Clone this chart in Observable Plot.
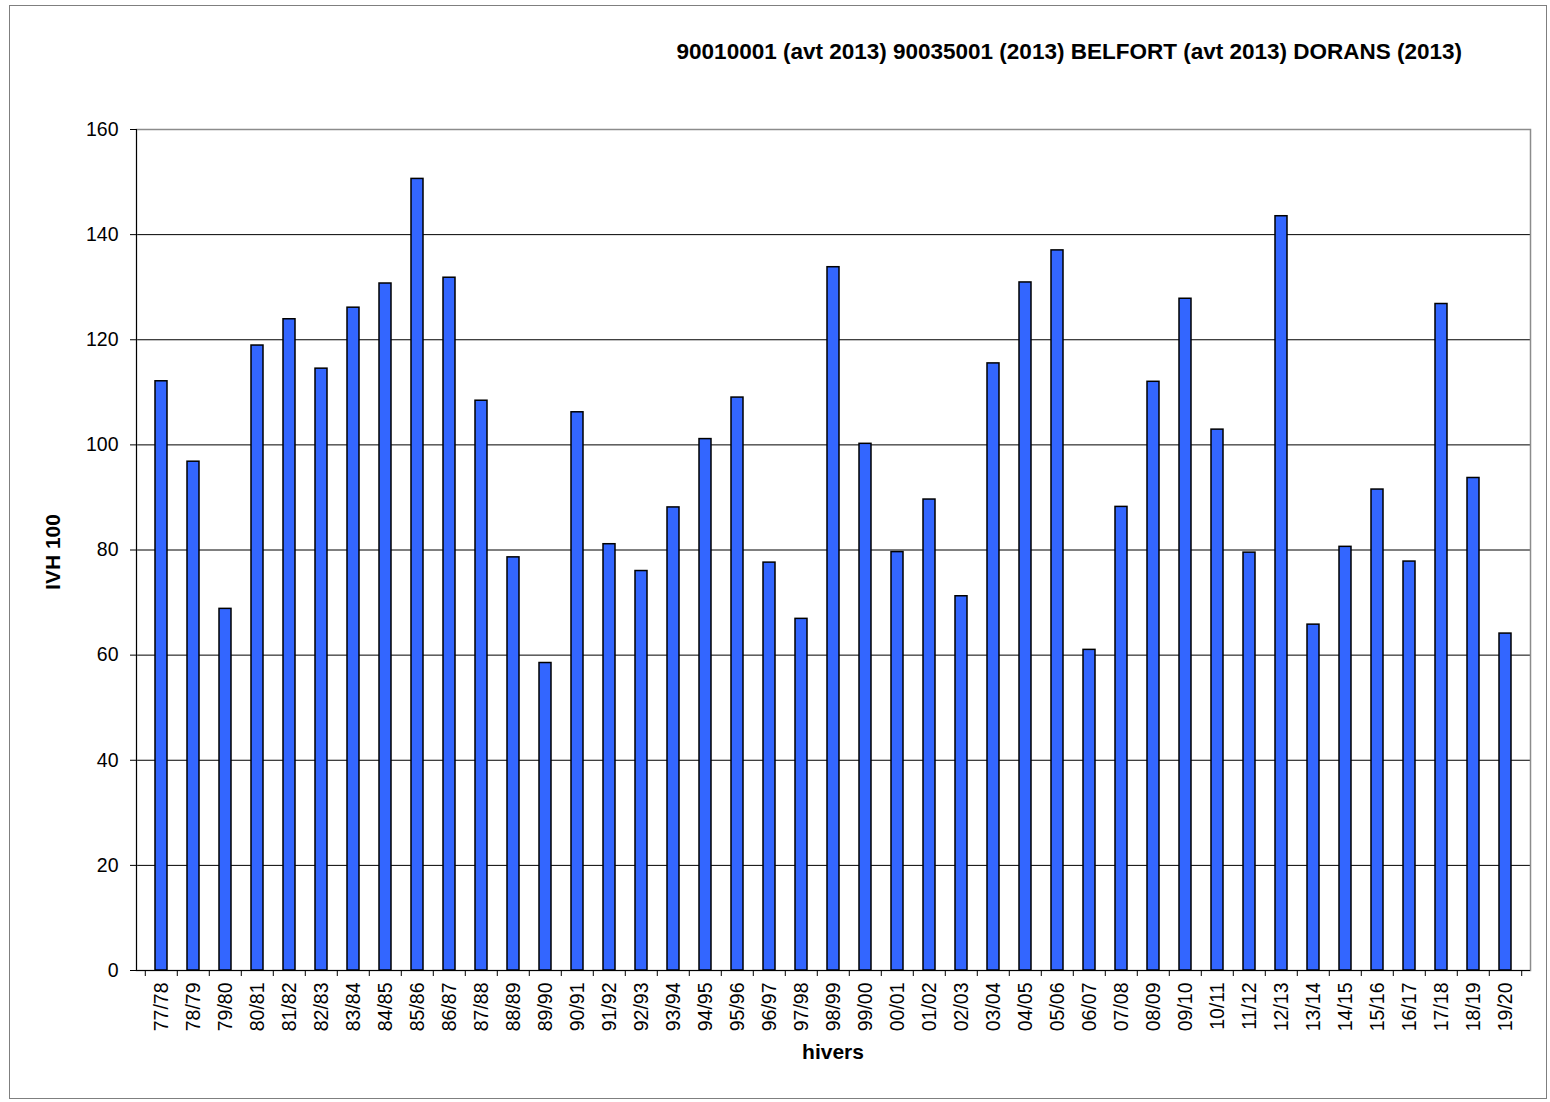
<!DOCTYPE html>
<html>
<head>
<meta charset="utf-8">
<script src="https://cdn.jsdelivr.net/npm/d3@7"></script>
<script src="https://cdn.jsdelivr.net/npm/@observablehq/plot@0.6"></script>
<style>
  html, body { margin: 0; padding: 0; background: #fff; }
  body { font-family: "Liberation Sans", Arial, sans-serif; color: #000; }
  #wrap { position: relative; width: 1550px; height: 1102px; overflow: hidden; background: #fff; }
  #border { position: absolute; left: 9px; top: 5px; width: 1538px; height: 1094px; border: 1px solid #7f7f7f; box-sizing: border-box; pointer-events: none; }
  #chart { position: absolute; left: 0; top: 0; }
  .t { position: absolute; white-space: nowrap; font-weight: bold; line-height: 1; }
  #title { right: 88px; top: 41px; font-size: 22.5px; }
  #ytitle { left: 52px; top: 552px; font-size: 21px; transform: translate(-50%, -50%) rotate(-90deg); }
  #xtitle { left: 833px; top: 1051px; font-size: 21px; transform: translate(-50%, -50%); }
</style>
</head>
<body>
<div id="wrap">
  <div id="chart"></div>
  <div id="border"></div>
  <div class="t" id="title"></div>
  <div class="t" id="ytitle"></div>
  <div class="t" id="xtitle"></div>
</div>
<script>
// ---- data ----
const hivers = ["77/78","78/79","79/80","80/81","81/82","82/83","83/84","84/85","85/86","86/87",
  "87/88","88/89","89/90","90/91","91/92","92/93","93/94","94/95","95/96","96/97",
  "97/98","98/99","99/00","00/01","01/02","02/03","03/04","04/05","05/06","06/07",
  "07/08","08/09","09/10","10/11","11/12","12/13","13/14","14/15","15/16","16/17",
  "17/18","18/19","19/20"];
const ivh = [112.1, 96.8, 68.8, 118.9, 123.9, 114.5, 126.1, 130.7, 150.6, 131.8,
  108.4, 78.6, 58.5, 106.2, 81.1, 76.0, 88.1, 101.1, 109.0, 77.6,
  66.9, 133.8, 100.2, 79.6, 89.6, 71.2, 115.5, 130.9, 137.0, 61.0,
  88.2, 112.0, 127.8, 102.9, 79.5, 143.5, 65.8, 80.6, 91.5, 77.8,
  126.8, 93.7, 64.1];
const yTicks = [0, 20, 40, 60, 80, 100, 120, 140, 160];
const titleText = "90010001 (avt 2013) 90035001 (2013) BELFORT (avt 2013) DORANS (2013)";
const xTitle = "hivers";
const yTitle = "IVH 100";

document.getElementById("title").textContent = titleText;
document.getElementById("xtitle").textContent = xTitle;
document.getElementById("ytitle").textContent = yTitle;

const table = hivers.map((h, i) => ({hiver: h, ivh: ivh[i]}));

const W = 1550, H = 1102;
const mL = 136, mR = 20, mT = 129, mB = 132;
const step = (W - mL - mR) / hivers.length;

const chart = Plot.plot({
  width: W,
  height: H,
  marginLeft: mL,
  marginRight: mR,
  marginTop: mT,
  marginBottom: mB,
  style: {fontFamily: '"Liberation Sans", Arial, sans-serif', fontSize: "19.5px", color: "#000", background: "transparent", overflow: "visible"},
  x: {type: "band", domain: hivers, paddingInner: 0.62, paddingOuter: 0.31, align: 0.5},
  y: {domain: [0, 160]},
  marks: [
    Plot.gridY(yTicks.filter(v => v > 0 && v < 160), {stroke: "#000", strokeOpacity: 1}),
    Plot.frame({stroke: "#8c8c8c", strokeWidth: 1.5}),
    Plot.barY(table, {x: "hiver", y: "ivh", fill: "#3366FF", stroke: "#000", strokeWidth: 1.5}),
    Plot.ruleY([0], {stroke: "#000"}),
    Plot.frame({anchor: "left", stroke: "#000"}),
    Plot.axisY({ticks: yTicks, tickSize: 6, tickPadding: 12, label: null}),
    Plot.axisX({tickSize: 0, tickPadding: 12, tickRotate: -90, label: null}),
    Plot.axisX({tickSize: 6, tickFormat: () => "", dx: -step / 2, label: null}),
    Plot.axisX([hivers[hivers.length - 1]], {tickSize: 6, tickFormat: () => "", dx: step / 2, label: null})
  ]
});
document.getElementById("chart").appendChild(chart);
</script>
</body>
</html>
